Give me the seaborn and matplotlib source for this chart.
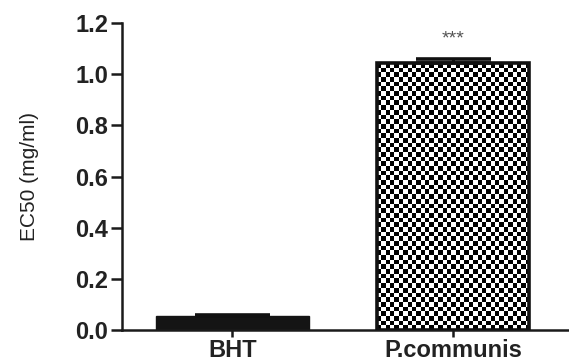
import numpy as np
import pandas as pd
import matplotlib
matplotlib.use("Agg")
import matplotlib.pyplot as plt
import seaborn as sns

categories = ["BHT", "P.communis"]
ec50 = [0.053, 1.042]
sem = [0.006, 0.016]
significance = ["", "***"]
yticks = [0.0, 0.2, 0.4, 0.6, 0.8, 1.0, 1.2]

sns.set_style("ticks")
plt.rcParams["font.family"] = ["Liberation Sans", "DejaVu Sans"]

df = pd.DataFrame({"group": categories, "ec50": ec50})

fig = plt.figure(figsize=(5.69, 3.63), dpi=100)
ax = fig.add_axes([122 / 569, 33 / 363, 447 / 569, 307 / 363])

sns.barplot(data=df, x="group", y="ec50", hue="group", order=categories,
            hue_order=categories, palette=["#141414", "white"], width=0.69,
            errorbar=None, legend=False, ax=ax, zorder=2)

ax.set_xlim(-0.501, 1.526)
ax.set_ylim(0, 1.2)

# style bars
bars = ax.patches
bars[0].set_edgecolor("#141414")
bars[0].set_linewidth(1.0)
bars[1].set_facecolor("none")
bars[1].set_edgecolor("#111111")
bars[1].set_linewidth(2.6)
bars[1].set_zorder(3)

# checkerboard fill for the second bar, clipped to the bar shape
fig.canvas.draw()
b = bars[1]
x0, y0 = b.get_x(), b.get_y()
x1, y1 = x0 + b.get_width(), y0 + b.get_height()
p0 = ax.transData.transform((x0, y0))
p1 = ax.transData.transform((x1, y1))
ncols = max(2, int(round(abs(p1[0] - p0[0]) / 4.4)))
nrows = max(2, int(round(abs(p1[1] - p0[1]) / 4.7)))
ii, jj = np.indices((nrows, ncols))
board = ((ii + jj) % 2).astype(float)
img = ax.imshow(board, cmap="gray", vmin=0, vmax=1, extent=(x0, x1, y0, y1),
                aspect="auto", interpolation="nearest", zorder=2.5)
img.set_clip_path(b)
ax.set_xlim(-0.501, 1.526)
ax.set_ylim(0, 1.2)

# error bars (upper)
xpos = np.arange(len(categories))
ax.errorbar(xpos, ec50, yerr=[np.zeros(len(sem)), sem], fmt="none",
            ecolor="#111111", elinewidth=2.2, capsize=27, capthick=2.6,
            zorder=4)

for x, v, e, s in zip(xpos, ec50, sem, significance):
    if s:
        ax.text(x, v + e + 0.045, s, ha="center", va="bottom",
                fontsize=14, color="#555555")

sns.despine(ax=ax)
for sp in ("left", "bottom"):
    ax.spines[sp].set_linewidth(1.8)
    ax.spines[sp].set_color("#1a1a1a")

ax.set_yticks(yticks)
ax.set_yticklabels([f"{t:.1f}" for t in yticks], fontsize=17,
                   fontweight="bold", color="#222222")
ax.set_xticks(xpos)
ax.set_xticklabels(categories, fontsize=17, fontweight="bold",
                   color="#222222")
ax.tick_params(axis="y", length=8, width=1.8, pad=2, color="#1a1a1a")
ax.tick_params(axis="x", length=5, width=1.8, pad=1.5, color="#1a1a1a")

ax.set_xlabel("")
ax.set_ylabel("EC50 (mg/ml)", fontsize=15, color="#222222")
ax.yaxis.set_label_coords(-0.185, 0.5)

fig.savefig("out.png", dpi=100)
